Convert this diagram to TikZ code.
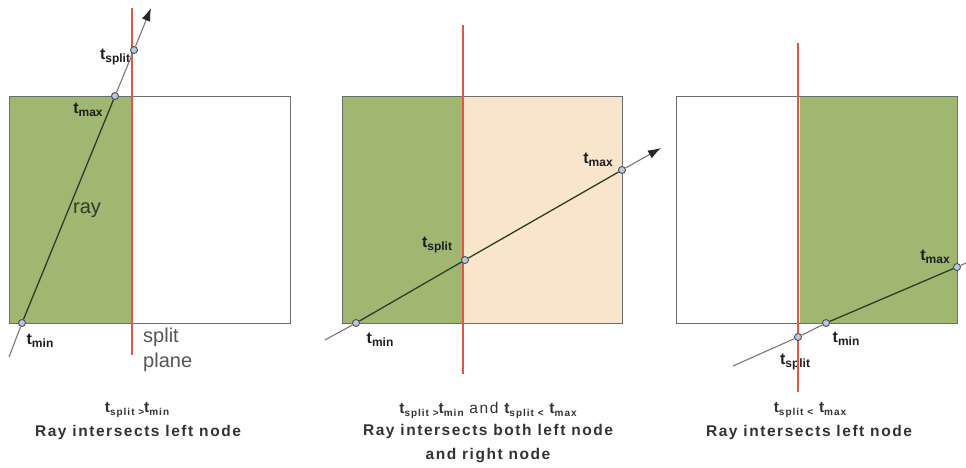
\documentclass[tikz,border=0pt]{standalone}
\usepackage{fontspec}
\setmainfont{Liberation Sans}
\newfontfamily\capfont[LetterSpace=10]{Liberation Sans}
\usetikzlibrary{arrows.meta}
\definecolor{nodegreen}{RGB}{160,183,114}
\definecolor{nodecream}{RGB}{248,229,203}
\definecolor{planered}{RGB}{221,88,66}
\definecolor{boxgray}{RGB}{105,110,105}
\definecolor{raydark}{RGB}{45,60,40}
\definecolor{raygray}{RGB}{120,120,120}
\definecolor{hitfill}{RGB}{185,200,225}
\definecolor{hitedge}{RGB}{70,80,90}
\definecolor{labelcol}{RGB}{30,30,30}
\definecolor{captcol}{RGB}{50,50,50}
\definecolor{planetext}{RGB}{85,85,85}
\newcommand\tlab[1]{t\raisebox{-3.5pt}{\fontsize{12}{12}\selectfont #1}}
\newcommand\tcap[1]{t\raisebox{-3pt}{\fontsize{10}{10}\selectfont #1}}
\begin{document}
\begin{tikzpicture}[x=1pt,y=-1pt,
  boxline/.style={draw=boxgray, line width=0.9pt},
  plane/.style={draw=planered, line width=2.6pt},
  rayin/.style={draw=raydark, line width=1.3pt},
  rayout/.style={draw=raygray, line width=1.1pt},
  raytip/.style={rayout, -{Latex[length=13pt,width=9pt,fill=black!85,color=black!85]}},
  hit/.style={circle, draw=hitedge, fill=hitfill, line width=0.9pt, inner sep=0pt, minimum size=7pt},
  tlabel/.style={font=\bfseries\fontsize{16}{16}\selectfont, text=labelcol, inner sep=0pt},
  caption/.style={font=\capfont\bfseries\fontsize{15.5}{24}\selectfont, text=captcol, align=center, inner sep=0pt},
  plain/.style={font=\fontsize{20}{25}\selectfont, inner sep=0pt}]
\useasboundingbox (0,0) rectangle (966,467);

% ---------- panel 1 ----------
\fill[nodegreen] (9,96) rectangle (131,323);
\draw[boxline] (9,96) rectangle (290,323);
\node[tlabel] (l1split) at (115,57) {\tlab{split}};
\node[tlabel] (l1max) at (88,110) {\tlab{max}};
\node[tlabel] (l1min) at (40,341) {\tlab{min}};
\node[plain, text=raydark] (l1ray) at (87,210) {ray};
\node[plain, text=planetext, anchor=north west, align=left] (l1plane) at (143,328) {split\\plane};
\coordinate (p1top) at (132,8);
\coordinate (p1bot) at (132,355);
\draw[plane] (p1top) -- (p1bot);
\coordinate (r1start) at (9,357);
\coordinate (r1tip) at (151,8);
\node[hit] (h1min) at (22,323) {};
\node[hit] (h1max) at (115,96) {};
\node[hit] (h1split) at (134,50) {};
\draw[rayout] (r1start) -- (h1min);
\draw[rayin] (h1min) -- (h1max);
\draw[rayout] (h1max) -- (h1split);
\draw[raytip] (h1split) -- (r1tip);
\node[caption] (c1a) at (137,410) {\tcap{split >}\tcap{min}};
\node[caption] (c1b) at (138,432) {Ray intersects left node};

% ---------- panel 2 ----------
\fill[nodegreen] (342,96) rectangle (463,323);
\fill[nodecream] (463,96) rectangle (622,323);
\draw[boxline] (342,96) rectangle (622,323);
\node[tlabel] (l2split) at (437,245) {\tlab{split}};
\node[tlabel] (l2max) at (598,160) {\tlab{max}};
\node[tlabel] (l2min) at (380,340) {\tlab{min}};
\coordinate (p2top) at (463,25);
\coordinate (p2bot) at (463,374);
\draw[plane] (p2top) -- (p2bot);
\coordinate (r2start) at (325,340);
\coordinate (r2tip) at (661,148);
\node[hit] (h2min) at (356,323) {};
\node[hit] (h2split) at (465,260) {};
\node[hit] (h2max) at (622,170) {};
\draw[rayout] (r2start) -- (h2min);
\draw[rayin] (h2min) -- (h2split);
\draw[rayin] (h2split) -- (h2max);
\draw[raytip] (h2max) -- (r2tip);
\node[caption] (c2a) at (488,410) {\tcap{split >}\tcap{min} {\mdseries and} \tcap{split <} \tcap{max}};
\node[caption] (c2b) at (488,444) {Ray intersects both left node\\and right node};

% ---------- panel 3 ----------
\fill[nodegreen] (800,96) rectangle (957,323);
\draw[boxline] (676,96) rectangle (957,323);
\node[tlabel] (l3max) at (935,257) {\tlab{max}};
\node[tlabel] (l3min) at (846,339) {\tlab{min}};
\node[tlabel] (l3split) at (795,362) {\tlab{split}};
\coordinate (p3top) at (798,43);
\coordinate (p3bot) at (798,392);
\draw[plane] (p3top) -- (p3bot);
\coordinate (r3start) at (733,366);
\coordinate (r3end) at (966,263);
\node[hit] (h3split) at (798,337) {};
\node[hit] (h3min) at (826,323) {};
\node[hit] (h3max) at (957,267) {};
\draw[rayout] (r3start) -- (h3split);
\draw[rayout] (h3split) -- (h3min);
\draw[rayin] (h3min) -- (h3max);
\draw[rayout] (h3max) -- (r3end);
\node[caption] (c3a) at (810,410) {\tcap{split <} \tcap{max}};
\node[caption] (c3b) at (809,432) {Ray intersects left node};
\end{tikzpicture}
\end{document}
